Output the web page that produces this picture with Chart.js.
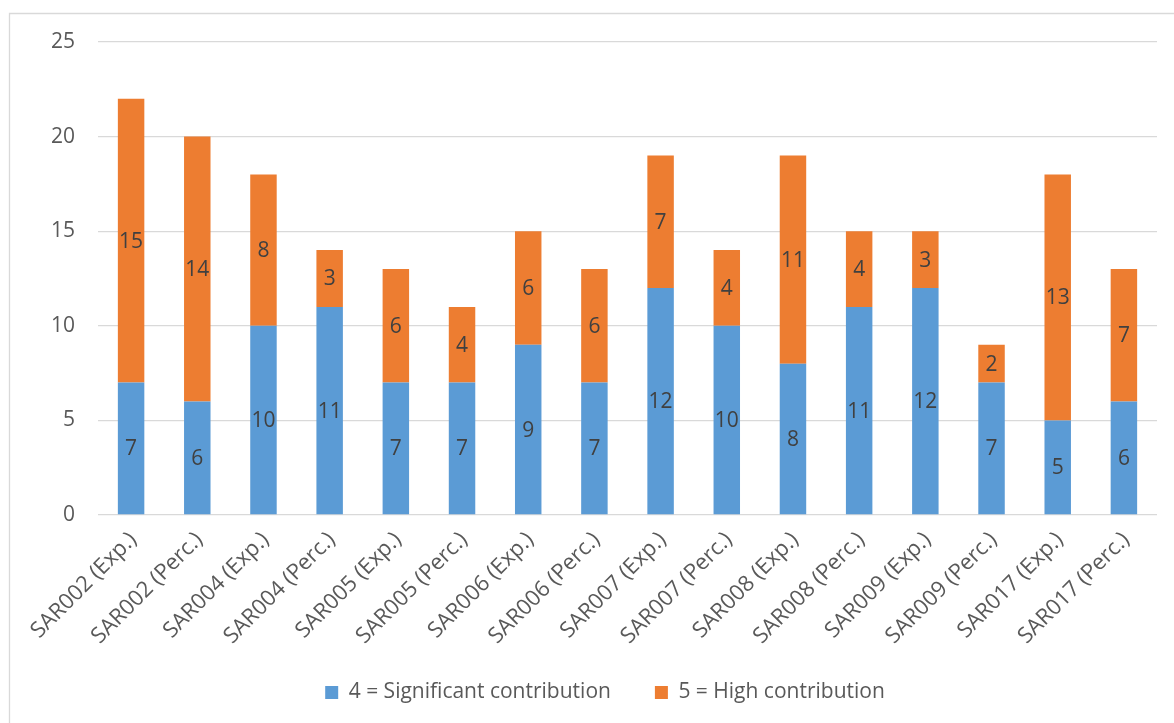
<!DOCTYPE html>
<html>
<head>
<meta charset="utf-8">
<title>Contribution by SAR</title>
<script src="https://cdn.jsdelivr.net/npm/chart.js@4/dist/chart.umd.min.js"></script>
<style>
  html, body { margin: 0; padding: 0; background: #ffffff; }
  canvas { display: block; }
</style>
</head>
<body>
<canvas id="chart" width="1174" height="723"></canvas>
<script>
// Categories (x axis)
const categories = [
  'SAR002 (Exp.)', 'SAR002 (Perc.)', 'SAR004 (Exp.)', 'SAR004 (Perc.)',
  'SAR005 (Exp.)', 'SAR005 (Perc.)', 'SAR006 (Exp.)', 'SAR006 (Perc.)',
  'SAR007 (Exp.)', 'SAR007 (Perc.)', 'SAR008 (Exp.)', 'SAR008 (Perc.)',
  'SAR009 (Exp.)', 'SAR009 (Perc.)', 'SAR017 (Exp.)', 'SAR017 (Perc.)'
];

// Series values
const significantContribution = [7, 6, 10, 11, 7, 7, 9, 7, 12, 10, 8, 11, 12, 7, 5, 6];
const highContribution = [15, 14, 8, 3, 6, 4, 6, 6, 7, 4, 11, 4, 3, 2, 13, 7];

// Series names
const seriesNames = ['4 = Significant contribution', '5 = High contribution'];

// Y axis ticks
const yTicks = [0, 5, 10, 15, 20, 25];

const FONT = "'Open Sans', 'Noto Sans', sans-serif";
const TEXT = '#595959';
const LABEL_TEXT = '#404040';
const GRID = '#d9d9d9';

// Light frame along the top and left of the chart
const framePlugin = {
  id: 'frame',
  beforeDraw(chart) {
    const ctx = chart.ctx;
    ctx.save();
    ctx.fillStyle = '#ffffff';
    ctx.fillRect(0, 0, chart.width, chart.height);
    ctx.strokeStyle = GRID;
    ctx.lineWidth = 1.3;
    ctx.beginPath();
    ctx.moveTo(9.5, chart.height);
    ctx.lineTo(9.5, 13.5);
    ctx.lineTo(chart.width, 13.5);
    ctx.stroke();
    ctx.restore();
  }
};

// Value labels centred in each stacked segment
const segmentLabels = {
  id: 'segmentLabels',
  afterDatasetsDraw(chart) {
    const ctx = chart.ctx;
    ctx.save();
    ctx.font = '21px ' + FONT;
    ctx.fillStyle = LABEL_TEXT;
    ctx.textAlign = 'center';
    ctx.textBaseline = 'middle';
    chart.data.datasets.forEach((ds, i) => {
      const meta = chart.getDatasetMeta(i);
      meta.data.forEach((bar, j) => {
        const v = ds.data[j];
        if (!v) return;
        ctx.fillText(String(v), bar.x, (bar.y + bar.base) / 2 + 1);
      });
    });
    ctx.restore();
  }
};

// Place the legend row: centred under the full chart, slightly above its box
const legendShift = {
  id: 'legendShift',
  afterLayout(chart) {
    const lg = chart.legend;
    if (lg) {
      lg.left += 22;
      lg.right += 22;
      lg.top -= 17;
      lg.bottom -= 17;
    }
  }
};

new Chart(document.getElementById('chart'), {
  type: 'bar',
  data: {
    labels: categories,
    datasets: [
      {
        label: seriesNames[0],
        data: significantContribution,
        backgroundColor: '#5b9bd5',
        borderWidth: 0
      },
      {
        label: seriesNames[1],
        data: highContribution,
        backgroundColor: '#ed7d31',
        borderWidth: 0
      }
    ]
  },
  options: {
    responsive: false,
    animation: false,
    devicePixelRatio: 1,
    layout: { padding: { left: 9, right: 17, top: 42, bottom: -7 } },
    datasets: {
      bar: { barPercentage: 0.4, categoryPercentage: 1.0 }
    },
    plugins: {
      tooltip: { enabled: false },
      title: { display: false },
      legend: {
        position: 'bottom',
        align: 'center',
        labels: {
          boxWidth: 13,
          boxHeight: 13,
          padding: 44,
          color: TEXT,
          font: { family: FONT, size: 21 }
        }
      }
    },
    scales: {
      x: {
        stacked: true,
        grid: { display: false, drawTicks: false },
        border: { display: false },
        ticks: {
          color: TEXT,
          font: { family: FONT, size: 22 },
          minRotation: 45,
          maxRotation: 45,
          autoSkip: false,
          labelOffset: 2,
          padding: 12
        },
        afterFit(scale) { scale.height = 140; }
      },
      y: {
        stacked: true,
        min: 0,
        max: 25,
        afterBuildTicks(scale) { scale.ticks = yTicks.map(v => ({ value: v })); },
        grid: { color: GRID, lineWidth: 1.3, drawTicks: false },
        border: { display: false },
        ticks: {
          color: TEXT,
          font: { family: FONT, size: 21 },
          padding: 23
        },
        afterFit(scale) { scale.width = 89; }
      }
    }
  },
  plugins: [framePlugin, segmentLabels, legendShift]
});
</script>
</body>
</html>
